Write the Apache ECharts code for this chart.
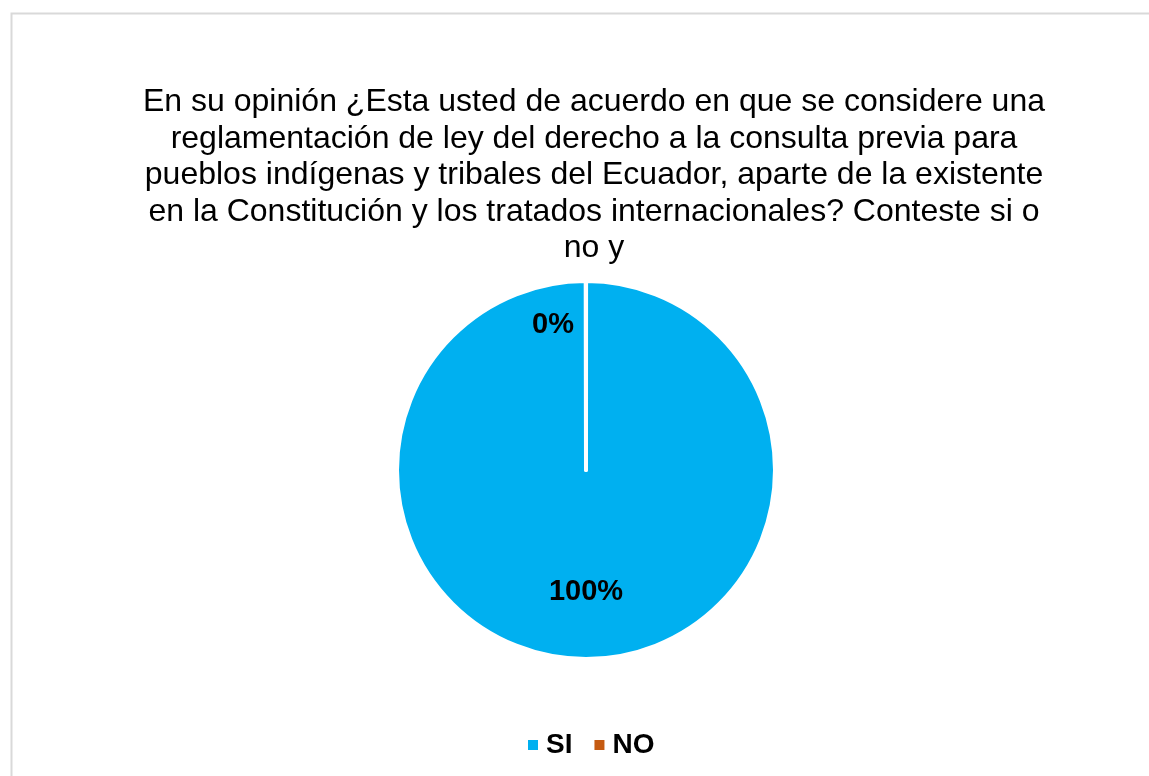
<!DOCTYPE html>
<html>
<head>
<meta charset="utf-8">
<script src="https://cdn.jsdelivr.net/npm/echarts@6/dist/echarts.min.js"></script>
<style>
  html, body { margin: 0; padding: 0; background: #fff; }
  #chart { width: 1149px; height: 776px; }
</style>
</head>
<body>
<div id="chart"></div>
<script>
// data
const categories = ['SI', 'NO'];
const percentages = [100, 0];
const sliceColors = ['#00b0f0', '#c55a11'];
const titleLines = [
  'En su opinión ¿Esta usted de acuerdo en que se considere una',
  'reglamentación de ley del derecho a la consulta previa para',
  'pueblos indígenas y tribales del Ecuador, aparte de la existente',
  'en la Constitución y los tratados internacionales? Conteste si o',
  'no y'
];

const chart = echarts.init(document.getElementById('chart'));

chart.setOption({
  animation: false,
  textStyle: { fontFamily: '"Liberation Sans", Arial, sans-serif' },
  graphic: [{
    type: 'rect',
    left: 9, top: 11,
    shape: { width: 1200, height: 800 },
    style: { fill: 'none', stroke: '#d9d9d9', lineWidth: 2 },
    silent: true
  }],
  title: {
    text: titleLines.join('\n'),
    left: 589,
    textAlign: 'center',
    top: 79,
    textStyle: {
      fontSize: 32,
      fontWeight: 'normal',
      color: '#000',
      lineHeight: 36.5
    }
  },
  legend: {
    bottom: 17,
    left: 526,
    padding: 0,
    itemWidth: 12,
    itemHeight: 12,
    itemGap: 20,
    icon: 'rect',
    data: categories,
    textStyle: { fontSize: 28, fontWeight: 'bold', color: '#000', padding: [0, 0, 0, 2] }
  },
  series: [{
    type: 'pie',
    center: [586, 470],
    radius: 189,
    startAngle: 90,
    clockwise: true,
    padAngle: 0.05,
    avoidLabelOverlap: false,
    itemStyle: { borderColor: '#fff', borderWidth: 4 },
    label: {
      position: 'inside',
      formatter: '{d}%',
      fontSize: 29,
      fontWeight: 'bold',
      color: '#000'
    },
    labelLine: { show: false },
    labelLayout: function (p) {
      return p.dataIndex === 0 ? { dy: 24 } : { dx: -33, dy: -48 };
    },
    emphasis: { disabled: true },
    data: categories.map((c, i) => ({
      name: c,
      value: percentages[i],
      itemStyle: { color: sliceColors[i] }
    }))
  }]
});
</script>
</body>
</html>
